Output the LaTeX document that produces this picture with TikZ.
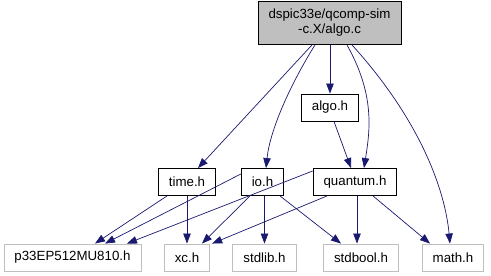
\documentclass[tikz,border=0pt]{standalone}
\usepackage{fontspec}
\setmainfont{Liberation Sans}
\usepackage{tikz}
\usetikzlibrary{arrows.meta}

\definecolor{edgeblue}{RGB}{25,25,112}
\definecolor{nodegray}{RGB}{191,191,191}

\begin{document}
\begin{tikzpicture}[x=1pt,y=-1pt,
    font=\fontsize{13.3}{15}\selectfont,
    hdr/.style={draw=black,line width=0.9pt,minimum height=27pt,inner xsep=10.5pt,inner ysep=0pt},
    sysh/.style={draw=nodegray,line width=0.9pt,minimum height=27pt,inner xsep=10.5pt,inner ysep=0pt},
    dep/.style={draw=edgeblue,line width=0.7pt,-{Triangle[length=10pt,width=7.5pt]}}]
      \useasboundingbox (0,0) rectangle (491,276);

      \node[hdr,fill=nodegray,align=center,minimum width=143pt,minimum height=43pt] (algoc) at (329.5,23) {dspic33e/qcomp-sim\\-c.X/algo.c};

      \node[hdr] (algoh) at (330,107.5) {algo.h};

      \node[hdr] (timeh) at (187,182) {time.h};
      \node[hdr] (ioh) at (262.5,182) {io.h};
      \node[hdr] (quantum) at (355,182) {quantum.h};

      \node[sysh] (p33) at (72.5,257.5) {p33EP512MU810.h};
      \node[sysh] (xch) at (187,257.5) {xc.h};
      \node[sysh] (stdlib) at (264.5,257.5) {stdlib.h};
      \node[sysh] (stdbool) at (361,257.5) {stdbool.h};
      \node[sysh] (mathh) at (453,257.5) {math.h};

      \draw[dep] ([xshift=-17.5pt]algoc.south) -- ([xshift=11pt]timeh.north);
      \draw[dep] ([xshift=-14.5pt]algoc.south) .. controls +(-25,40) and +(4,-38) .. ([xshift=3.5pt]ioh.north);
      \draw[dep] ([xshift=0.5pt]algoc.south) -- (algoh.north);
      \draw[dep] ([xshift=17.5pt]algoc.south) .. controls +(28,50) and +(6,-38) .. ([xshift=9pt]quantum.north);
      \draw[dep] ([xshift=22.5pt]algoc.south) .. controls +(68,75) and +(-5,-54) .. ([xshift=-3pt]mathh.north);

      \draw[dep] ([xshift=4pt]algoh.south) -- ([xshift=-4pt]quantum.north);

      \draw[dep] ([xshift=-20pt]timeh.south) -- ([xshift=22.5pt]p33.north);
      \draw[dep] (timeh.south) -- (xch.north);

      \draw[dep] ([yshift=8pt]ioh.west) -- ([xshift=32.5pt]p33.north);
      \draw[dep] ([xshift=-12.5pt]ioh.south) -- ([xshift=15pt]xch.north);
      \draw[dep] ([xshift=2pt]ioh.south) -- (stdlib.north);
      \draw[dep] ([xshift=17.5pt]ioh.south) -- ([xshift=-20pt]stdbool.north);

      \draw[dep] ([yshift=11pt]quantum.west) -- ([xshift=54.5pt]p33.north);
      \draw[dep] ([xshift=-28pt]quantum.south) -- ([xshift=2pt]xch.north east);
      \draw[dep] ([xshift=2pt]quantum.south) -- ([xshift=-4pt]stdbool.north);
      \draw[dep] ([xshift=18pt]quantum.south) -- ([xshift=-23pt]mathh.north);
    \end{tikzpicture}
\end{document}
